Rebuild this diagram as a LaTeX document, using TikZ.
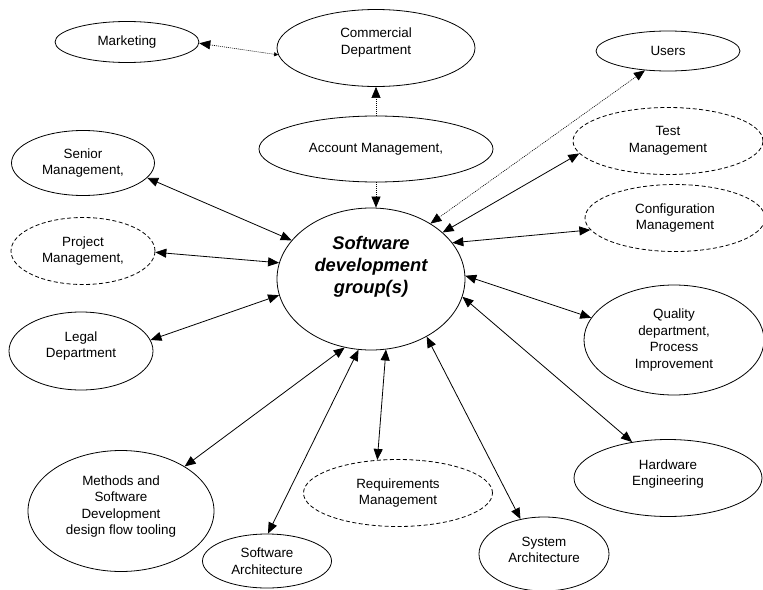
\documentclass[tikz,border=0pt]{standalone}
\usepackage{fontspec}
\setmainfont{Liberation Sans}
\usetikzlibrary{shapes.geometric,arrows.meta}
\begin{document}
\begin{tikzpicture}[x=1pt,y=-1pt,
  >={Triangle[length=11pt,width=9pt]},
  el/.style={ellipse,draw,line width=0.8pt,inner sep=0pt,align=center,
    font=\fontsize{13.4}{16.5}\selectfont},
  dsh/.style={el,dash pattern=on 4pt off 2.5pt},
  tx/.style={inner sep=0pt,align=center,font=\fontsize{13.4}{16.5}\selectfont},
  conn/.style={line width=0.8pt,<->},
  dotc/.style={line width=0.6pt,dash pattern=on 1pt off 1pt}]
\useasboundingbox (0,0) rectangle (763,589);
% ellipses
\node[el,minimum width=188pt,minimum height=142pt] (soft) at (371,279) {};
\node[tx,font=\fontsize{18.3}{21.8}\selectfont\bfseries\itshape] (softt) at (371,267) {Software\\development\\group(s)};
\node[el,minimum width=144pt,minimum height=41pt] (mkt) at (127,42) {Marketing};
\node[el,minimum width=198pt,minimum height=77pt] (com) at (376,48) {};
\node[tx] (comt) at (376,42.5) {Commercial\\Department};
\node[el,minimum width=234pt,minimum height=66pt] (acc) at (376,149) {Account Management,};
\node[el,minimum width=144pt,minimum height=40pt] (usr) at (668,51) {Users};
\node[dsh,minimum width=190pt,minimum height=67pt] (tst) at (668,141) {Test\\Management};
\node[dsh,minimum width=180pt,minimum height=67pt] (cfg) at (675,218) {Configuration\\Management};
\node[el,minimum width=143pt,minimum height=65pt] (sen) at (83,163) {Senior\\Management,};
\node[dsh,minimum width=144pt,minimum height=67pt] (prj) at (83,251) {Project\\Management,};
\node[el,minimum width=144pt,minimum height=78pt] (leg) at (81,351) {};
\node[tx] (legt) at (81,346) {Legal\\Department};
\node[el,minimum width=180pt,minimum height=110pt] (qua) at (674,340) {Quality\\department,\\Process\\Improvement};
\node[el,minimum width=188pt,minimum height=77pt] (hw) at (668,478) {};
\node[tx] (hwt) at (668,474) {Hardware\\Engineering};
\node[el,minimum width=186pt,minimum height=121pt] (met) at (121,511) {};
\node[tx] (mett) at (121,506.5) {Methods and\\Software\\Development\\design flow tooling};
\node[el,minimum width=129pt,minimum height=54pt] (swa) at (267,561) {Software\\Architecture};
\node[dsh,minimum width=189pt,minimum height=67pt] (req) at (398,493) {Requirements\\Management};
\node[el,minimum width=130pt,minimum height=74pt] (sys) at (544,554) {};
\node[tx] (syst) at (544,550) {System\\Architecture};
% connectors
\draw[dotc,{Triangle[length=4pt,width=4pt]}->] (com.184) -- (mkt.-1);
\draw[dotc,->] (acc.north) -- (com.south);
\draw[dotc,->] (acc.south) -- (acc.south |- soft.north);
\draw[dotc,<->] (soft.43.6) -- (usr.220);
\draw[conn] (soft.33.2) -- (tst.188);
\draw[conn] (soft.24.6) -- (cfg.188);
\draw[conn] (soft.2.4) -- (qua.165);
\draw[conn] (soft.349.3) -- (hw.135.7);
\draw[conn] (soft.314.6) -- (sys.124);
\draw[conn] (soft.282.6) -- (req.122.5);
\draw[conn] (soft.260.8) -- (swa.88);
\draw[conn] (soft.249.3) -- (met.35.8);
\draw[conn] (soft.190.9) -- (leg.9);
\draw[conn] (soft.170.2) -- (prj.-1.5);
\draw[conn] (soft.154.2) -- (sen.-13);
\end{tikzpicture}
\end{document}
